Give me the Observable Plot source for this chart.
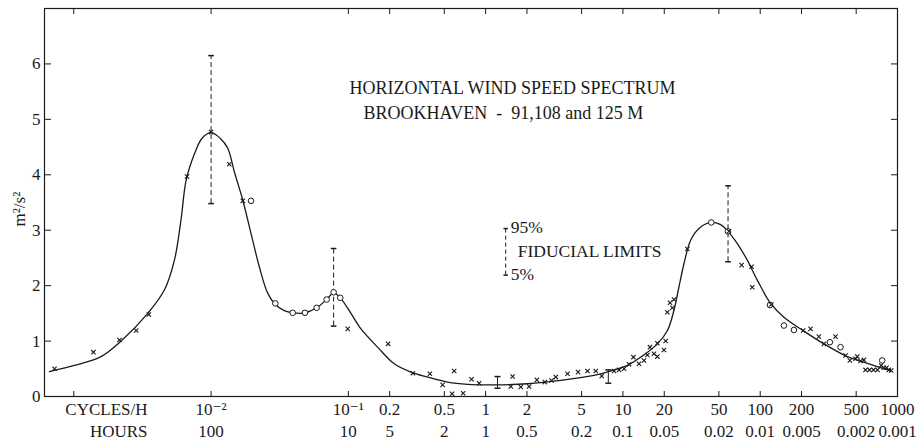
<!DOCTYPE html>
<html><head><meta charset="utf-8">
<script src="https://cdn.jsdelivr.net/npm/d3@7"></script>
<script src="https://cdn.jsdelivr.net/npm/@observablehq/plot@0.6"></script>
<style>
body{margin:0;background:#fff}
#chart svg{font-family:"Liberation Serif","DejaVu Serif",serif}
</style>
</head><body><div id="chart"></div>
<script>
// smooth spectrum curve (cycles per hour, m^2/s^2)
const curveFreq = [6.65e-4,1.01e-3,1.58e-3,2.21e-3,3.46e-3,4.57e-3,5.41e-3,6.05e-3,6.58e-3,7.55e-3,8.6e-3,0.01,0.01163,0.01323,0.01479,0.01703,0.01955,0.02247,0.02589,0.02939,0.03413,0.03933,0.04831,0.05875,0.06947,0.0781,0.0873,0.1045,0.1236,0.1634,0.2158,0.2856,0.3779,0.5284,0.738,1.153,2.017,3.525,6.16,8.15,10.78,13.49,17.84,21.09,23.57,25.6,27.86,31.15,35.8,43.55,51.5,58.2,68.1,80.5,95.2,119.1,148.9,208,291,430.6,568.9,711.6,889.6];
const curveValue = [0.45,0.56,0.72,1.0,1.5,1.92,2.46,3.2,3.9,4.37,4.66,4.76,4.66,4.48,4.05,3.54,2.94,2.34,1.86,1.66,1.55,1.51,1.51,1.6,1.75,1.87,1.78,1.5,1.22,0.89,0.59,0.44,0.35,0.26,0.22,0.21,0.23,0.29,0.38,0.46,0.56,0.71,0.95,1.19,1.56,1.98,2.40,2.82,3.03,3.14,3.10,2.98,2.76,2.46,2.10,1.68,1.43,1.18,0.95,0.72,0.62,0.54,0.47];

// "x" estimates
const crossFreq = [7.24e-4,1.39e-3,2.15e-3,2.85e-3,3.52e-3,6.68e-3,0.01,0.01358,0.01703,0.0989,0.195,0.2951,0.3926,0.4857,0.59,0.57,0.686,0.789,0.897,1.571,1.525,1.803,2.073,2.36,2.699,3.019,3.245,3.947,4.713,5.52,6.34,7.01,8.62,9.37,10.19,11.08,11.92,13.09,14.24,15.07,15.74,16.83,17.82,17.82,19.91,20.48,21.07,22.02,22.91,23.55,29.47,59.2,73.2,86.5,87.5,120.5,205.6,232.6,267.4,353.7,291,418.6,449.9,494.8,509,538,568.9,585,625.5,668.9,715.2,760.6,794.6,831.1,864.3,899.6];
const crossValue = [0.50,0.80,1.02,1.19,1.48,3.97,4.77,4.19,3.53,1.22,0.95,0.42,0.41,0.21,0.46,0.05,0.06,0.31,0.24,0.36,0.18,0.17,0.18,0.30,0.26,0.29,0.35,0.41,0.44,0.46,0.46,0.37,0.46,0.48,0.50,0.58,0.71,0.59,0.65,0.75,0.89,0.77,0.72,0.96,0.84,1.0,1.52,1.69,1.60,1.75,2.66,2.98,2.37,2.34,1.97,1.66,1.19,1.22,1.08,1.08,0.95,0.74,0.65,0.68,0.72,0.64,0.66,0.48,0.48,0.48,0.48,0.56,0.52,0.52,0.48,0.47];

// "o" estimates
const circleFreq = [0.01955,0.02939,0.03933,0.04831,0.05875,0.06947,0.0781,0.0873,44,58.2,117.8,148.9,176,321.5,384.6,773.6];
const circleValue = [3.53,1.68,1.51,1.51,1.60,1.75,1.88,1.78,3.14,2.98,1.65,1.28,1.20,0.98,0.89,0.65];

// fiducial limits (dashed) and small solid bars
const dashFreq = [0.01, 0.0781, 58.3];
const dashLow = [3.48, 1.27, 2.43];
const dashHigh = [6.15, 2.67, 3.80];
const solidFreq = [1.22, 7.83];
const solidLow = [0.15, 0.24];
const solidHigh = [0.36, 0.48];

// legend bar for fiducial limits
const legendFreq = [1.40];
const legendLow = [2.19];
const legendHigh = [3.03];

// axis ticks
const tickFreq = [0.001,0.01,0.1,0.2,0.5,1,2,5,10,20,50,100,200,500,1000];
const cycleLabels = ["","10⁻²","10⁻¹","0.2","0.5","1","2","5","10","20","50","100","200","500","1000"];
const hourLabels = ["","100","10","5","2","1","0.5","0.2","0.1","0.05","0.02","0.01","0.005","0.002","0.001"];
const yTicks = [0,1,2,3,4,5,6];

const ink = "#1a1a1a";
const curve = curveFreq.map((f,i)=>({f, v: curveValue[i]}));
const crosses = crossFreq.map((f,i)=>({f, v: crossValue[i]}));
const circles = circleFreq.map((f,i)=>({f, v: circleValue[i]}));
const dashBars = dashFreq.map((f,i)=>({f, lo: dashLow[i], hi: dashHigh[i]}));
const solidBars = solidFreq.map((f,i)=>({f, lo: solidLow[i], hi: solidHigh[i]}));
const legendBars = legendFreq.map((f,i)=>({f, lo: legendLow[i], hi: legendHigh[i]}));
const xTickRows = tickFreq.map((f,i)=>({f, cyc: cycleLabels[i], hr: hourLabels[i]}));

const capSymbol = {draw(ctx, size){ const r = Math.sqrt(size/Math.PI); ctx.moveTo(-r,0); ctx.lineTo(r,0); }};

const fs = 17;
const plot = Plot.plot({
  width: 924, height: 441,
  marginLeft: 44, marginRight: 27, marginTop: 8, marginBottom: 45,
  x: {type: "log", domain: [6.12e-4, 1000]},
  y: {domain: [0, 7]},
  style: {fontFamily: "'Liberation Serif','DejaVu Serif',serif", fontSize: fs + "px", color: ink, background: "#fff", overflow: "visible"},
  marks: [
    Plot.frame({stroke: ink, strokeWidth: 1.2}),
    // tick marks (inward)
    Plot.axisX({anchor: "bottom", ticks: tickFreq, tickSize: -5, tickFormat: () => "", label: null, stroke: ink}),
    Plot.axisX({anchor: "top", ticks: tickFreq, tickSize: -5, tickFormat: () => "", label: null, stroke: ink}),
    Plot.axisY({anchor: "left", ticks: yTicks, tickSize: -7, tickFormat: () => "", label: null, stroke: ink}),
    Plot.axisY({anchor: "right", ticks: yTicks, tickSize: -7, tickFormat: () => "", label: null, stroke: ink}),
    // tick labels
    Plot.text(xTickRows, {x: "f", text: "cyc", frameAnchor: "bottom", lineAnchor: "top", dy: 6, fontSize: fs, fill: ink}),
    Plot.text(xTickRows, {x: "f", text: "hr", frameAnchor: "bottom", lineAnchor: "top", dy: 28, fontSize: fs, fill: ink}),
    Plot.axisY({anchor: "left", ticks: yTicks, tickSize: 0, tickPadding: 4, tickFormat: d => String(d), label: null, fontSize: fs, fill: ink}),
    Plot.text(["CYCLES/H"], {frameAnchor: "bottom-left", textAnchor: "end", lineAnchor: "top", dx: 103, dy: 6, fontSize: fs, fill: ink}),
    Plot.text(["HOURS"], {frameAnchor: "bottom-left", textAnchor: "end", lineAnchor: "top", dx: 103, dy: 28, fontSize: fs, fill: ink}),
    Plot.text(["m²/s²"], {frameAnchor: "left", rotate: -90, dx: -25, dy: 24, fontSize: fs, fill: ink}),
    // titles
    Plot.text(["HORIZONTAL WIND SPEED SPECTRUM"], {frameAnchor: "top-left", textAnchor: "start", lineAnchor: "bottom", dx: 305, dy: 85, fontSize: 18, fill: ink}),
    Plot.text(["BROOKHAVEN  -  91,108 and 125 M"], {frameAnchor: "top-left", textAnchor: "start", lineAnchor: "bottom", dx: 319, dy: 110, fontSize: 18, fill: ink}),
    // curve
    Plot.line(curve, {x: "f", y: "v", curve: "catmull-rom", stroke: ink, strokeWidth: 1.3}),
    // dashed fiducial bars
    Plot.ruleX(dashBars, {x: "f", y1: "lo", y2: "hi", stroke: ink, strokeWidth: 1, strokeDasharray: "5,3"}),
    Plot.dot(dashBars, {x: "f", y: "hi", symbol: capSymbol, r: 2.8, stroke: ink, fill: "none"}),
    Plot.dot(dashBars, {x: "f", y: "lo", symbol: capSymbol, r: 2.8, stroke: ink, fill: "none"}),
    // small solid bars
    Plot.ruleX(solidBars, {x: "f", y1: "lo", y2: "hi", stroke: ink, strokeWidth: 1}),
    Plot.dot(solidBars, {x: "f", y: "hi", symbol: capSymbol, r: 3, stroke: ink, fill: "none"}),
    Plot.dot(solidBars, {x: "f", y: "lo", symbol: capSymbol, r: 3, stroke: ink, fill: "none"}),
    // markers
    Plot.dot(circles, {x: "f", y: "v", symbol: "circle", r: 2.8, stroke: ink, fill: "white", strokeWidth: 1}),
    Plot.dot(crosses, {x: "f", y: "v", symbol: "times", r: 2.1, stroke: ink, strokeWidth: 1.1}),
    // legend
    Plot.ruleX(legendBars, {x: "f", y1: "lo", y2: "hi", stroke: ink, strokeWidth: 1, strokeDasharray: "4,3"}),
    Plot.dot(legendBars, {x: "f", y: "hi", symbol: capSymbol, r: 2.2, stroke: ink, fill: "none"}),
    Plot.dot(legendBars, {x: "f", y: "lo", symbol: capSymbol, r: 2.2, stroke: ink, fill: "none"}),
    Plot.text(legendBars, {x: "f", y: "hi", text: () => "95%", textAnchor: "start", dx: 5, dy: -1, fontSize: 17.5, fill: ink}),
    Plot.text(legendBars, {x: "f", y: "hi", text: () => "FIDUCIAL LIMITS", textAnchor: "start", dx: 12, dy: 23, fontSize: 17.5, fill: ink}),
    Plot.text(legendBars, {x: "f", y: "lo", text: () => "5%", textAnchor: "start", dx: 5, dy: -1, fontSize: 17.5, fill: ink})
  ]
});
document.getElementById("chart").appendChild(plot);
</script>
</body></html>
